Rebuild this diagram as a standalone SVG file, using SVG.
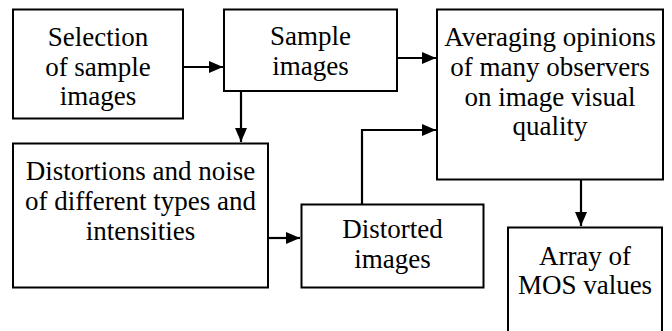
<svg xmlns="http://www.w3.org/2000/svg" width="672" height="331" viewBox="0 0 672 331" font-family="'Liberation Serif', 'Times New Roman', serif">
<defs>
<style>
.box{fill:#fff;stroke:#000;stroke-width:2}
.lbl{font-family:"Liberation Serif","Times New Roman",serif;font-size:27px;fill:#000;text-anchor:middle}
.c{fill:none;stroke:#000;stroke-width:2.2}
</style>
<marker id="ah" viewBox="0 0 14 12" refX="14" refY="6" markerWidth="14" markerHeight="12" markerUnits="userSpaceOnUse" orient="auto">
<path d="M0,0 L14,6 L0,12 Z" fill="#000"/>
</marker>
</defs>
<rect width="672" height="331" fill="#fff"/>
<g id="connectors">
<path class="c" d="M183,67 H223" marker-end="url(#ah)"/>
<path class="c" d="M241,91 V142" marker-end="url(#ah)"/>
<path class="c" d="M397,58 H436" marker-end="url(#ah)"/>
<path class="c" d="M362,204 V130 H436" marker-end="url(#ah)"/>
<path class="c" d="M268,238 H300" marker-end="url(#ah)"/>
<path class="c" d="M581,179 V226" marker-end="url(#ah)"/>
</g>
<g id="selection">
<rect class="box" x="13" y="9.5" width="170" height="109"/>
<text class="lbl" x="98" y="46">Selection</text>
<text class="lbl" x="98" y="76">of sample</text>
<text class="lbl" x="98" y="105">images</text>
</g>
<g id="sample">
<rect class="box" x="224" y="9.5" width="173" height="81.5"/>
<text class="lbl" x="310.5" y="45">Sample</text>
<text class="lbl" x="310.5" y="75">images</text>
</g>
<g id="averaging">
<rect class="box" x="437" y="9.5" width="226" height="170"/>
<text class="lbl" x="550" y="46">Averaging opinions</text>
<text class="lbl" x="550" y="76">of many observers</text>
<text class="lbl" x="550" y="106">on image visual</text>
<text class="lbl" x="550" y="135">quality</text>
</g>
<g id="distortions">
<rect class="box" x="13" y="143.5" width="255" height="144"/>
<text class="lbl" x="140.5" y="180">Distortions and noise</text>
<text class="lbl" x="140.5" y="210">of different types and</text>
<text class="lbl" x="140.5" y="240">intensities</text>
</g>
<g id="distorted">
<rect class="box" x="301.5" y="204.5" width="182" height="83"/>
<text class="lbl" x="392.5" y="238">Distorted</text>
<text class="lbl" x="392.5" y="268">images</text>
</g>
<g id="mos">
<rect class="box" x="508" y="227.5" width="154" height="110"/>
<text class="lbl" x="585" y="265">Array of</text>
<text class="lbl" x="585" y="294">MOS values</text>
</g>
</svg>
